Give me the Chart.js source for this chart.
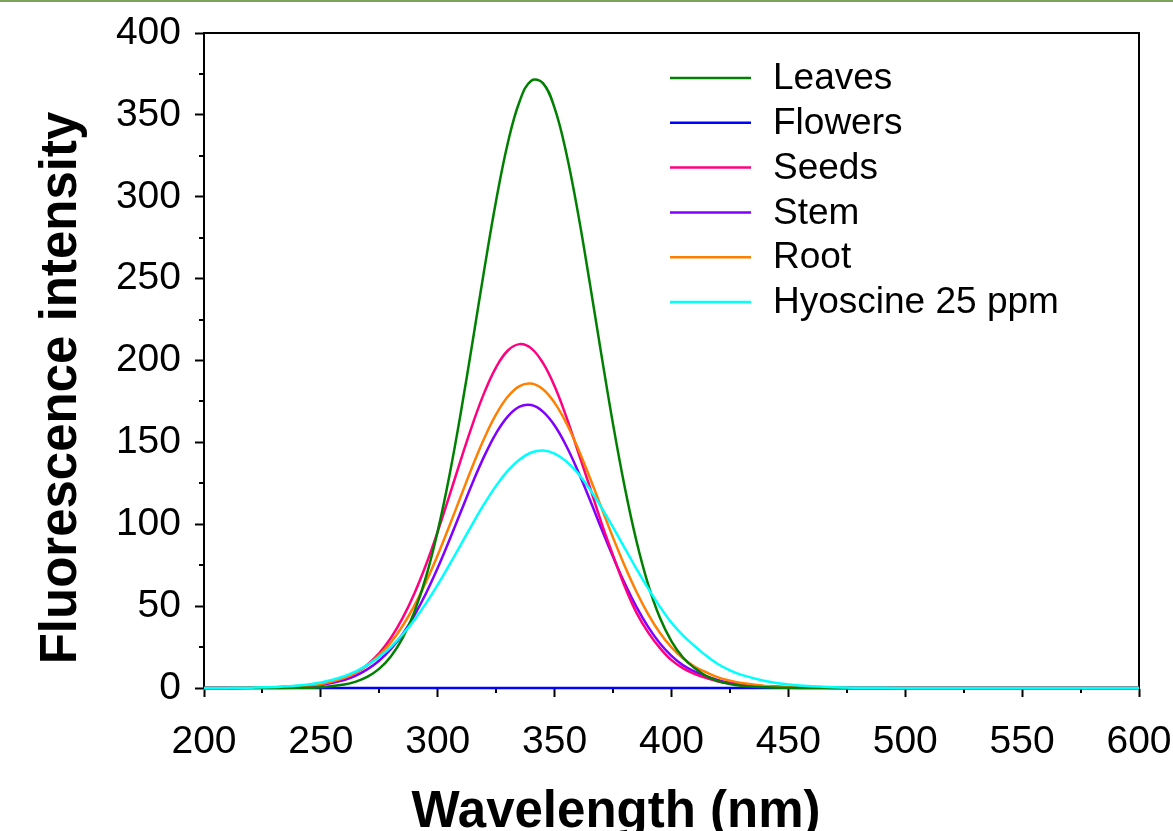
<!DOCTYPE html>
<html>
<head>
<meta charset="utf-8">
<script src="https://cdn.jsdelivr.net/npm/chart.js@4.4.1/dist/chart.umd.min.js"></script>
<style>
html,body{margin:0;padding:0;background:#ffffff;}
#wrap{position:relative;width:1173px;height:831px;overflow:hidden;}
#topline{position:absolute;left:0;top:0;width:1173px;height:2px;background:#7aa35c;}
canvas{display:block;}
</style>
</head>
<body>
<div id="wrap"><canvas id="c" width="1173" height="831"></canvas><div id="topline"></div></div>
<script>
// ---- data ----
const wavelengths = [200,210,220,230,240,250,260,265,270,275,280,285,290,295,300,305,310,315,320,325,330,335,340,345,350,355,360,365,370,375,380,385,390,395,400,405,410,415,420,425,430,440,450,460,470,480,500,550,600];

const leaves   = [0,0,0,0,0.1,0.5,2.1,3.9,6.9,11.8,19.4,30.6,46.5,68,95.9,129.8,169.3,212.4,256.4,297.9,333,358.2,370.9,369.4,354.1,326.6,290,247.7,203.6,161,122.6,89.8,63.3,43,28.5,18.5,12,7.2,4.2,2.4,1.4,0.4,0.1,0,0,0,0,0,0];
const flowers  = [0,0,0,0,0,0,0,0,0,0,0,0,0,0,0,0,0,0,0,0,0,0,0,0,0,0,0,0,0,0,0,0,0,0,0,0,0,0,0,0,0,0,0,0,0,0,0,0,0];
const seeds    = [0,0.05,0.15,0.4,1,2.2,6,9.4,14.4,21.4,30.7,42.8,57.7,75.4,95.6,117.5,139.9,161.5,180.7,196,206.1,210,207.4,198.5,184.2,165.6,144.4,123,101,81,62,46,34,24.5,17,12,8.5,6,4,2.8,2,1,0.4,0.15,0.05,0,0,0,0];
const stem     = [0,0.03,0.1,0.3,0.8,1.9,4.9,7.6,11.5,16.8,23.9,33,44.4,57.9,73.4,90.4,108.1,125.7,141.9,155.7,165.9,171.8,172.8,168.8,160.3,147.8,132.4,115.3,97.4,80.1,63.9,49.5,37.3,27.3,19.6,13.8,10,7,4.8,3.2,2.2,1,0.4,0.15,0.05,0,0,0,0];
const root     = [0,0.05,0.2,0.5,1.2,2.5,6.2,9.4,13.9,20,27.9,38,50.3,64.8,81.2,99.1,117.6,135.9,152.8,167.2,178,184.4,185.9,182.4,174.1,161.8,146.3,128.7,110.2,91.8,74.5,58.8,45.1,33.7,24.8,18,13,9.5,6.5,4.5,3,1.3,0.5,0.2,0.1,0,0,0,0];
const hyoscine = [0.02,0.07,0.22,0.6,1.5,3.4,7.2,10.2,14.1,19.1,25.2,32.8,41.6,51.8,63.1,75.3,87.9,100.6,112.7,123.6,132.7,139.6,143.8,145,143.2,138.4,131.1,121.5,110.3,98.1,85.4,72.8,60.8,49.7,39.8,32,25.5,19.5,14.5,10.8,8,4.3,2.2,1,0.5,0.2,0.05,0,0];

const seriesLabels = ["Leaves","Flowers","Seeds","Stem","Root","Hyoscine 25 ppm"];
const seriesColors = ["#008000","#0000ff","#ff0080","#8000ff","#ff8000","#00ffff"];
const seriesValues = [leaves, flowers, seeds, stem, root, hyoscine];
const drawOrder = [1, 6, 3, 4, 2, 0];

const xMin = 200, xMax = 600, xStep = 50, xMinorStep = 25;
const yMin = 0, yMax = 400, yStep = 50, yMinorStep = 25;
const xTitle = "Wavelength (nm)";
const yTitle = "Fluorescence intensity";

// ---- chart ----
const FONT = '"Liberation Sans", Arial, Helvetica, sans-serif';

const datasets = seriesLabels.map((lab, k) => ({
  label: lab,
  data: wavelengths.map((w, i) => ({x: w, y: seriesValues[k][i]})),
  borderColor: seriesColors[k],
  backgroundColor: seriesColors[k],
  borderWidth: 2.5,
  pointRadius: 0,
  fill: false,
  tension: 0.4,
  order: drawOrder[k],
  clip: false
}));

const framePlugin = {
  id: 'frame',
  beforeDatasetsDraw(chart) {
    const {ctx, chartArea: a, scales: {x, y}} = chart;
    ctx.save();
    ctx.strokeStyle = '#000';
    ctx.lineWidth = 2;
    ctx.beginPath();
    ctx.moveTo(a.left - 1, a.top);
    ctx.lineTo(a.right, a.top);
    ctx.lineTo(a.right, a.bottom);
    ctx.stroke();
    // minor ticks
    ctx.beginPath();
    for (let v = xMin + xMinorStep; v < xMax; v += xStep) {
      const px = Math.round(x.getPixelForValue(v));
      ctx.moveTo(px, a.bottom);
      ctx.lineTo(px, a.bottom + 5);
    }
    for (let v = yMin + yMinorStep; v < yMax; v += yStep) {
      const py = Math.round(y.getPixelForValue(v));
      ctx.moveTo(a.left, py);
      ctx.lineTo(a.left - 5, py);
    }
    ctx.stroke();
    ctx.restore();
  },
  afterDraw(chart) {
    const {ctx} = chart;
    ctx.save();
    // legend
    ctx.font = '37px ' + FONT;
    ctx.textBaseline = 'middle';
    ctx.textAlign = 'left';
    chart.data.datasets.forEach((ds, i) => {
      const yy = 78 + i * 44.8;
      ctx.strokeStyle = ds.borderColor;
      ctx.lineWidth = 2.5;
      ctx.beginPath();
      ctx.moveTo(670, yy);
      ctx.lineTo(751, yy);
      ctx.stroke();
      ctx.fillStyle = '#000';
      ctx.fillText(ds.label, 773, yy + 1);
    });
    // axis titles
    ctx.fillStyle = '#000';
    ctx.font = 'bold 51px ' + FONT;
    ctx.textAlign = 'center';
    ctx.textBaseline = 'alphabetic';
    ctx.fillText(xTitle, 616, 827);
    ctx.translate(76, 388);
    ctx.rotate(-Math.PI / 2);
    ctx.fillText(yTitle, 0, 0);
    ctx.restore();
  }
};

new Chart(document.getElementById('c'), {
  type: 'line',
  data: {datasets},
  options: {
    responsive: false,
    animation: false,
    devicePixelRatio: 1,
    layout: {autoPadding: false, padding: {top: 33, right: 34, left: 0, bottom: 0}},
    plugins: {legend: {display: false}, tooltip: {enabled: false}},
    scales: {
      x: {
        type: 'linear', min: xMin, max: xMax,
        ticks: {stepSize: xStep, color: '#000', font: {family: FONT, size: 39}, padding: 22, maxRotation: 0, autoSkip: false},
        grid: {display: true, drawOnChartArea: false, drawTicks: true, tickLength: 9, tickWidth: 2, tickColor: '#000'},
        border: {display: true, color: '#000', width: 2},
        afterFit: s => { s.height = 143; s.paddingLeft = 0; s.paddingRight = 0; }
      },
      y: {
        type: 'linear', min: yMin, max: yMax,
        ticks: {stepSize: yStep, color: '#000', font: {family: FONT, size: 39}, padding: 14},
        grid: {display: true, drawOnChartArea: false, drawTicks: true, tickLength: 9, tickWidth: 2, tickColor: '#000'},
        border: {display: true, color: '#000', width: 2},
        afterFit: s => { s.width = 204; s.paddingTop = 0; s.paddingBottom = 0; }
      }
    }
  },
  plugins: [framePlugin]
});
</script>
</body>
</html>
